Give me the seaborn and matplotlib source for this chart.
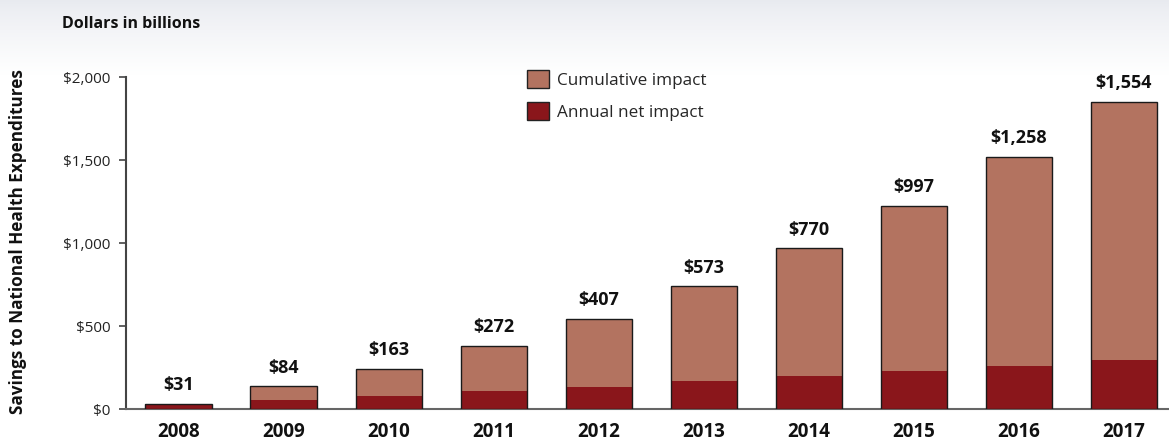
import numpy as np
import pandas as pd
import matplotlib
matplotlib.use("Agg")
import matplotlib.pyplot as plt
from matplotlib.patches import Patch
import seaborn as sns

years = ["2008", "2009", "2010", "2011", "2012", "2013", "2014", "2015", "2016", "2017"]
annual_net = [33, 53, 79, 109, 135, 166, 197, 227, 261, 296]
cumulative_seg = [0, 84, 163, 272, 407, 573, 770, 997, 1258, 1554]
label_values = ["$31", "$84", "$163", "$272", "$407", "$573", "$770", "$997", "$1,258", "$1,554"]
ytick_vals = [0, 500, 1000, 1500, 2000]
ytick_labels = ["$0", "$500", "$1,000", "$1,500", "$2,000"]

sns.set_style("white")
FONT = ["Open Sans", "DejaVu Sans"]
plt.rcParams["font.family"] = FONT

LIGHT = "#b37360"
DARK = "#8a161b"

df = pd.DataFrame({"year": years, "annual": annual_net, "cum": cumulative_seg})
df["total"] = df["annual"] + df["cum"]

fig = plt.figure(figsize=(11.69, 4.40), dpi=100)

# background gradient band at top
bg = fig.add_axes([0, 1 - 75 / 440, 1, 75 / 440], zorder=-10)
grad = np.linspace(0, 1, 200).reshape(-1, 1) ** 0.8
top_c = np.array([0.910, 0.918, 0.940])
bot_c = np.array([1.0, 1.0, 1.0])
img = top_c[None, None, :] * (1 - grad[:, :, None]) + bot_c[None, None, :] * grad[:, :, None]
bg.imshow(img, aspect="auto", extent=[0, 1, 0, 1])
bg.set_axis_off()

ax = fig.add_axes([126 / 1169, 31 / 440, 1 - 126 / 1169, (409 - 77) / 440])
ax.set_facecolor("none")

sns.barplot(data=df, x="year", y="total", color=LIGHT, width=0.63, saturation=1,
            edgecolor="none", linewidth=0, ax=ax, zorder=2)
sns.barplot(data=df, x="year", y="annual", color=DARK, width=0.63, saturation=1,
            edgecolor="none", linewidth=0, ax=ax, zorder=3)
sns.barplot(data=df, x="year", y="total", width=0.63, fill=False,
            edgecolor="#1a1a1a", linewidth=1.0, ax=ax, zorder=4)

for i, (t, lab) in enumerate(zip(df["total"], label_values)):
    ax.annotate(lab, xy=(i, t), xytext=(0, 7), textcoords="offset points",
                ha="center", va="bottom", fontsize=13, fontweight="bold",
                color="#111111")

ax.set_xlim(-0.5, 9.43)
ax.set_ylim(0, 2000)
ax.set_yticks(ytick_vals)
ax.set_yticklabels(ytick_labels, fontsize=11, color="#222222")
ax.tick_params(axis="y", length=5, width=1.2, color="#444444", pad=6, direction="out", left=True)
ax.tick_params(axis="x", length=0, pad=9, labelsize=13.5)
for t in ax.get_xticklabels():
    t.set_fontweight("bold")
    t.set_color("#111111")
ax.set_xlabel("")
ax.set_ylabel("")
for s in ["top", "right"]:
    ax.spines[s].set_visible(False)
ax.spines["left"].set_color("#444444")
ax.spines["left"].set_linewidth(1.5)
ax.spines["bottom"].set_color("#666666")
ax.spines["bottom"].set_linewidth(1.5)

handles = [Patch(facecolor=LIGHT, edgecolor="#222222", linewidth=1.0, label="Cumulative impact"),
           Patch(facecolor=DARK, edgecolor="#222222", linewidth=1.0, label="Annual net impact")]
fig.legend(handles=handles, loc="upper left", bbox_to_anchor=(524 / 1169, 1 - 67 / 440),
           frameon=False, fontsize=12.3, handlelength=1.25, handleheight=1.25,
           handletextpad=0.5, labelspacing=0.75, borderaxespad=0, borderpad=0.2)

fig.text(62 / 1169, 1 - 24 / 440, "Dollars in billions", fontsize=11.5, fontweight="bold",
         ha="left", va="center", color="#111111")
fig.text(18 / 1169, 1 - 242 / 440, "Savings to National Health Expenditures", fontsize=12.3,
         fontweight="bold", rotation=90, ha="center", va="center", color="#111111")

fig.savefig("out.png", dpi=100)
